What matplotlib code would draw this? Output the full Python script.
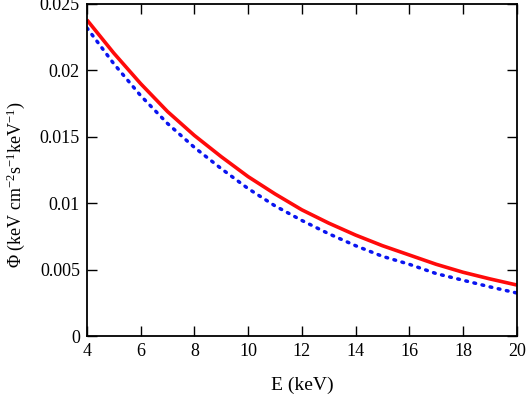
import numpy as np
import matplotlib
matplotlib.use("Agg")
import matplotlib.pyplot as plt

plt.rcParams['font.family'] = ['Liberation Serif', 'DejaVu Serif']
plt.rcParams['mathtext.fontset'] = 'custom'
plt.rcParams['mathtext.rm'] = 'Liberation Serif'
plt.rcParams['mathtext.it'] = 'Liberation Serif:italic'

# energy grid (keV) and fluxes
energy = [4, 5, 6, 7, 8, 9, 10, 11, 12, 13, 14, 15, 16, 17, 18, 19, 20]
flux_red = [0.0238, 0.0213, 0.0190, 0.0169, 0.0151, 0.0135, 0.0120, 0.0107,
            0.0095, 0.0085, 0.0076, 0.0068, 0.0061, 0.0054, 0.0048, 0.0043, 0.00384]
flux_blue = [0.0232, 0.0205, 0.0181, 0.0160, 0.0142, 0.0126, 0.0111, 0.0098,
             0.0087, 0.0077, 0.0068, 0.0060, 0.0054, 0.0047, 0.0042, 0.0037, 0.00324]

xticks = [4, 6, 8, 10, 12, 14, 16, 18, 20]
yticks = [0, 0.005, 0.01, 0.015, 0.02, 0.025]
ytick_labels = ['0', '0.005', '0.01', '0.015', '0.02', '0.025']

fig = plt.figure(figsize=(5.30, 3.96), dpi=100)
ax = fig.add_axes([0.164, 0.1515, 0.811, 0.8385])

ax.plot(energy, flux_blue, color='#0a14f0', lw=2.5, ls=(0, (0.5, 1.9)),
        dash_capstyle='round')
ax.plot(energy, flux_red, color='#ff0a0a', lw=2.6, solid_capstyle='butt')

ax.set_xlim(4, 20)
ax.set_ylim(0, 0.025)
ax.set_xticks(xticks)
ax.set_yticks(yticks)
ax.set_yticklabels(ytick_labels)
ax.tick_params(direction='in', length=7, width=1, top=True, right=True,
               labelsize=13, pad=5)
for s in ax.spines.values():
    s.set_linewidth(1.3)

ax.set_xlabel('E (keV)', fontsize=14, labelpad=12)
ax.set_ylabel(r'$\Phi$ (keV cm$^{-2}$s$^{-1}$keV$^{-1}$)', fontsize=13)
ax.yaxis.set_label_coords(-0.14, 0.455)

fig.savefig('out.png', dpi=100)
